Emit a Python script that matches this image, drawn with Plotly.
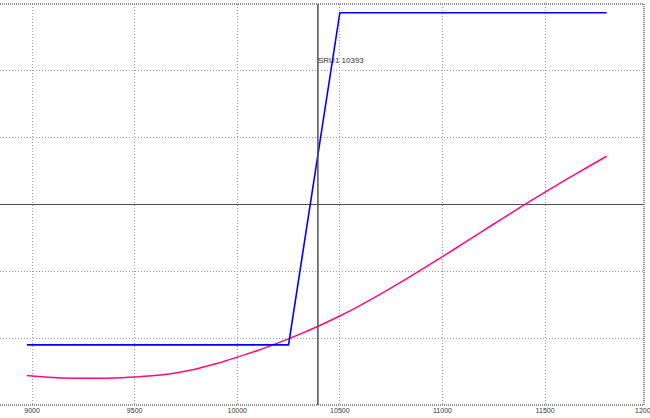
import plotly.graph_objects as go

# Blue series (payoff at expiry)
blue_x = [8975, 10250, 10500, 11800]
blue_y = [-2.10, -2.10, 2.87, 2.87]

# Pink series (current value curve)
pink_x = [8975, 9100, 9200, 9300, 9400, 9500, 9600, 9700, 9800, 9900, 10000,
          10100, 10200, 10300, 10400, 10500, 10600, 10700, 10800, 10900, 11000,
          11100, 11200, 11300, 11400, 11500, 11600, 11700, 11800]
pink_y = [-2.56, -2.59, -2.60, -2.60, -2.595, -2.58, -2.56, -2.52, -2.46, -2.38, -2.285,
          -2.184, -2.070, -1.947, -1.814, -1.669, -1.509, -1.337, -1.157, -0.971, -0.781,
          -0.586, -0.390, -0.195, -0.003, 0.185, 0.368, 0.546, 0.722]

# Marker line
marker_x = 10393
marker_label = "SRU1 10393"

x_ticks = [9000, 9500, 10000, 10500, 11000, 11500, 12000]
x_range = [8844, 11982]
y_range = [-3, 3]
y_ticks = [-3, -2, -1, 0, 1, 2, 3]

tick_font = dict(family="Liberation Sans", size=7, color="#333333")

fig = go.Figure()
fig.add_trace(go.Scatter(x=pink_x, y=pink_y, mode="lines",
                         line=dict(color="#ff0a7a", width=1.5, shape="spline"),
                         hoverinfo="skip", showlegend=False))
fig.add_trace(go.Scatter(x=blue_x, y=blue_y, mode="lines",
                         line=dict(color="#0000ff", width=1.6),
                         hoverinfo="skip", showlegend=False))

# vertical marker line
fig.add_shape(type="line", xref="x", yref="paper", x0=marker_x, x1=marker_x, y0=0, y1=1,
              line=dict(color="#505050", width=1.5), layer="above")
fig.add_annotation(x=marker_x, y=2.16, xref="x", yref="y", text=marker_label,
                   showarrow=False, xanchor="left", yanchor="middle", xshift=-2,
                   font=dict(family="Liberation Sans", size=8, color="#333333"))

# dotted border (top, right, bottom)
for (x0, y0, x1, y1) in [(0, 1, 1, 1), (1, 0, 1, 1), (0, 0, 1, 0)]:
    fig.add_shape(type="line", xref="paper", yref="paper", x0=x0, y0=y0, x1=x1, y1=y1,
                  line=dict(color="#6a6a6a", width=1.5, dash="1px,1px"), layer="above")

# tick labels inside range via axis; the cut-off one as annotation
in_range = [t for t in x_ticks if x_range[0] <= t <= x_range[1]]
out_range = [t for t in x_ticks if t not in in_range]
for t in out_range:
    fig.add_annotation(x=(t - x_range[0]) / (x_range[1] - x_range[0]), y=0,
                       xref="paper", yref="paper", text=str(t), showarrow=False,
                       xanchor="center", yanchor="top", yshift=0, xshift=-3,
                       font=tick_font)

fig.update_xaxes(range=x_range, tickvals=in_range, ticktext=[str(t) for t in in_range],
                 showgrid=True, gridcolor="#9a9a9a", griddash="1px,2px", gridwidth=1,
                 zeroline=False, showline=False, ticks="", ticklen=0,
                 tickfont=tick_font)
fig.update_yaxes(range=y_range, tickvals=y_ticks, showticklabels=False,
                 showgrid=True, gridcolor="#9a9a9a", griddash="1px,2px", gridwidth=1,
                 zeroline=True, zerolinecolor="#505050", zerolinewidth=1.2,
                 showline=False, ticks="")

fig.update_layout(width=650, height=418, margin=dict(l=0, r=6, t=4, b=13),
                  plot_bgcolor="white", paper_bgcolor="white")

fig.write_html("out.html", config={"displayModeBar": False, "staticPlot": True},
               post_script="document.body.style.margin='0';document.body.style.padding='0';"
                           "document.body.style.overflow='hidden';")
